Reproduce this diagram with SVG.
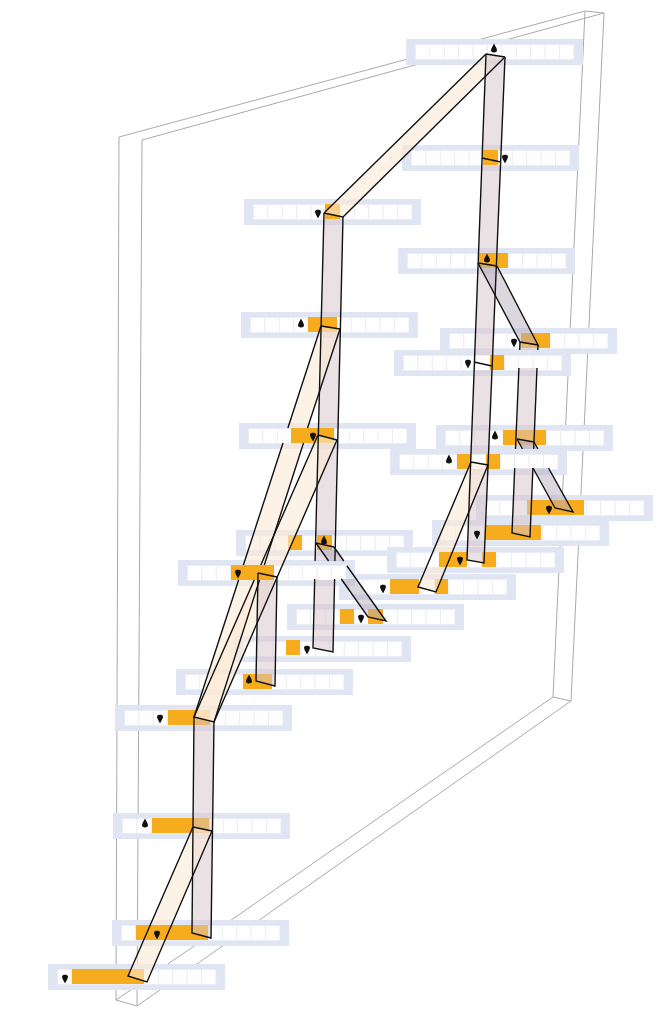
<svg xmlns="http://www.w3.org/2000/svg" width="656" height="1026" viewBox="0 0 656 1026">
<style>
.frame{fill:none;stroke:#a9a9b0;stroke-width:1}
.panel{fill:#e0e5f4}
.cell{fill:#fff;fill-opacity:.94;stroke:#e9ebf2;stroke-width:.7}
.on{fill:#f6ac1d}
.pin{fill:#111}
.cream{fill:#fbe9d6;fill-opacity:.6}
.rose{fill:#d6c3c9;fill-opacity:.5}
.grey{fill:#b3abbb;fill-opacity:.48}
.edge{fill:none;stroke:#111;stroke-width:1.4}
</style>
<defs>
<g id="reg">
<rect class="panel" x="0" y="0" width="177" height="26"/>
<rect class="cell" x="9.5" y="5.5" width="14.4" height="15"/><rect class="cell" x="23.9" y="5.5" width="14.4" height="15"/><rect class="cell" x="38.3" y="5.5" width="14.4" height="15"/><rect class="cell" x="52.7" y="5.5" width="14.4" height="15"/><rect class="cell" x="67.1" y="5.5" width="14.4" height="15"/><rect class="cell" x="81.5" y="5.5" width="14.4" height="15"/><rect class="cell" x="95.9" y="5.5" width="14.4" height="15"/><rect class="cell" x="110.3" y="5.5" width="14.4" height="15"/><rect class="cell" x="124.7" y="5.5" width="14.4" height="15"/><rect class="cell" x="139.1" y="5.5" width="14.4" height="15"/><rect class="cell" x="153.5" y="5.5" width="14.4" height="15"/>
</g>
<path id="pd" class="pin" d="M-3 -1.5C-3 -4 3 -4 3 -1.5C3 1 1 3 0 5.5C-1 3 -3 1 -3 -1.5Z"/>
<path id="pu" class="pin" d="M-3 1.5C-3 4 3 4 3 1.5C3 -1 1 -3 0 -5.5C-1 -3 -3 -1 -3 1.5Z"/>
</defs>
<g id="wall">
<path class="frame" d="M119 137L585 11L604 13L571 701L137 1006L116 1000L119 137M142 140L604 13M142 140L137 1006M585 11L553 697L571 701M553 697L224 925M203 940L162 968M148 978L116 1000"/>
</g>
<g id="r01"><use href="#reg" x="406" y="39"/><use href="#pu" x="494" y="49"/></g>
<g id="r02"><use href="#reg" x="402" y="145"/><rect class="on" x="483" y="150" width="15" height="15"/><use href="#pd" x="505" y="158"/></g>
<g id="r03"><use href="#reg" x="244" y="199"/><rect class="on" x="325" y="204" width="15" height="15"/><use href="#pd" x="318" y="213"/></g>
<g id="r04"><use href="#reg" x="398" y="248"/><rect class="on" x="479" y="253" width="29" height="15"/><use href="#pu" x="487" y="259"/></g>
<g id="r06"><use href="#reg" x="241" y="312"/><rect class="on" x="308" y="317" width="29" height="15"/><use href="#pu" x="301" y="324"/></g>
<g id="r05"><use href="#reg" x="440" y="328"/><rect class="on" x="521" y="333" width="29" height="15"/><use href="#pd" x="514" y="342"/></g>
<g id="r07"><use href="#reg" x="394" y="350"/><rect class="on" x="490" y="355" width="14" height="15"/><use href="#pd" x="468" y="363"/></g>
<g id="r08"><use href="#reg" x="239" y="423"/><rect class="on" x="291" y="428" width="43" height="15"/><use href="#pd" x="313" y="436"/></g>
<g id="r09"><use href="#reg" x="436" y="425"/><rect class="on" x="503" y="430" width="43" height="15"/><use href="#pu" x="495" y="436"/></g>
<g id="r10"><use href="#reg" x="390" y="449"/><rect class="on" x="457" y="454" width="14" height="15"/><rect class="on" x="486" y="454" width="14" height="15"/><use href="#pu" x="449" y="460"/></g>
<g id="r11"><use href="#reg" x="476" y="495"/><rect class="on" x="527" y="500" width="57" height="15"/><use href="#pd" x="549" y="509"/></g>
<g id="r12"><use href="#reg" x="432" y="520"/><rect class="on" x="485" y="525" width="56" height="15"/></g>
<g id="r13"><use href="#reg" x="236" y="530"/><rect class="on" x="288" y="535" width="14" height="15"/><rect class="on" x="317" y="535" width="15" height="15"/><use href="#pu" x="324" y="541"/></g>
<g id="r14"><use href="#reg" x="387" y="547"/><rect class="on" x="439" y="552" width="28" height="15"/><rect class="on" x="482" y="552" width="14" height="15"/><use href="#pd" x="460" y="560"/></g>
<g id="r16"><use href="#reg" x="339" y="574"/><rect class="on" x="390" y="579" width="29" height="15"/><rect class="on" x="435" y="579" width="13" height="15"/><use href="#pd" x="383" y="588"/></g>
<g id="r15"><use href="#reg" x="178" y="560"/><rect class="on" x="231" y="565" width="43" height="15"/><use href="#pd" x="238" y="573"/></g>
<g id="r17"><use href="#reg" x="287" y="604"/><rect class="on" x="340" y="609" width="14" height="15"/><rect class="on" x="368" y="609" width="15" height="15"/><use href="#pd" x="361" y="618"/></g>
<g id="r18"><use href="#reg" x="234" y="636"/><rect class="on" x="286" y="640" width="14" height="15"/><use href="#pd" x="307" y="649"/></g>
<g id="r19"><use href="#reg" x="176" y="669"/><rect class="on" x="243" y="674" width="29" height="15"/><use href="#pu" x="249" y="680"/></g>
<g id="r20"><use href="#reg" x="115" y="705"/><rect class="on" x="168" y="710" width="42" height="15"/><use href="#pd" x="160" y="718"/></g>
<g id="r21"><use href="#reg" x="113" y="813"/><rect class="on" x="152" y="818" width="57" height="15"/><use href="#pu" x="145" y="824"/></g>
<g id="r22"><use href="#reg" x="112" y="920"/><rect class="on" x="136" y="925" width="72" height="15"/><use href="#pd" x="157" y="934"/></g>
<g id="r23"><use href="#reg" x="48" y="964"/><rect class="on" x="72" y="969" width="72" height="15"/><use href="#pd" x="65" y="978"/></g>
<g id="connectors">
<path class="cream" d="M486 54L505 57L343 217L324 213Z"/>
<path class="rose" d="M486 54L505 57L501.1 150L482.4 150ZM481.8 165L500.5 165L496.9 253L478.5 253ZM477.9 268L496.2 268L492.6 355L474.7 355ZM474.1 370L492 370L488.5 454L471 454ZM470.4 469L487.9 469L484 563L467 560Z"/>
<path class="rose" d="M323.8 219L343 219L340.7 317L321.3 317ZM320.9 332L340.4 332L338.1 428L318.5 428ZM318.2 443L337.8 443L335.7 535L315.9 535ZM315.5 550L335.3 550L334.9 561L315.2 561ZM314.7 580L334.6 580L333 652L313 648Z"/>
<path class="cream" d="M321 326L340 329L307.5 428L287.9 428ZM283 443L303.5 443L264.3 565L243.4 565ZM238.6 580L259.5 580L214 722L194 717Z"/>
<path class="cream" d="M318 435L337 440L282.5 565L260.8 565ZM254.2 580L275.9 580L214 722L194 717Z"/>
<path class="rose" d="M258 580L276.9 580L275 686L256 681Z"/>
<path class="rose" d="M194 717L214 722L212 831L211 938L192 933L193 827Z"/>
<path class="cream" d="M193 827L212 831L171.5 925L150.2 925ZM143.7 940L165 940L147 982L128 976Z"/>
<path class="grey" d="M478 263L497 266L538 345L520 342Z"/>
<path class="rose" d="M520 342L538 345L537.8 350L519.7 350ZM518.9 368L537 368L533.7 449L515.5 449ZM514.7 468L532.9 468L530 537L512 533Z"/>
<path class="grey" d="M517 439L534 442L537.9 449L522.5 449ZM533 468L548.5 468L573 512L555 508Z"/>
<path class="grey" d="M316 543L334 547L343.8 561L328.6 561ZM341.3 579L356.5 579L386 621L368 617Z"/>
<path class="cream" d="M471 462L488 465L452.3 552L432.8 552ZM426.5 567L446.1 567L436 592L418 587Z"/>
<path class="edge" d="M486 54L505 57M486 54L324 213M505 57L343 217M324 213L343 217"/>
<path class="edge" d="M486 54L467 560L484 563L505 57M482 158L501 162M478 263L497 266M474 362L492 366M471 462L488 465"/>
<path class="edge" d="M324 213L315.1 561M314.7 579L313 648L333 652L334.6 579M334.9 561L343 217M321 326L340 329M318 435L337 440M316 543L334 547"/>
<path class="edge" d="M321 326L287.9 428M283 443L243.4 565M238.6 580L194 717L214 722L259.5 580M264.3 565L303.5 443M307.5 428L340 329"/>
<path class="edge" d="M318 435L260.8 565M254.2 580L194 717M337 440L214 722"/>
<path class="edge" d="M258 573L277 577M258 573L256 681L275 686L277 577"/>
<path class="edge" d="M194 717L192 933L211 938L214 722M193 827L212 831"/>
<path class="edge" d="M193 827L128 976L147 982L212 831"/>
<path class="edge" d="M478 263L520 342L538 345L497 266"/>
<path class="edge" d="M520 342L519.7 350M518.9 368L515.5 449M514.7 468L512 533L530 537L532.9 468M533.7 449L537 368M537.8 350L538 345M517 439L534 442"/>
<path class="edge" d="M517 439L522.5 449M533 468L555 508L573 512L548.5 468M537.9 449L534 442"/>
<path class="edge" d="M316 543L328.6 561M341.3 579L368 617L386 621L347 566M343.8 561L334 547"/>
<path class="edge" d="M471 462L418 587L436 592L488 465"/>
</g>
<g id="r12-pin"><use href="#pd" x="477" y="534"/></g>
</svg>
